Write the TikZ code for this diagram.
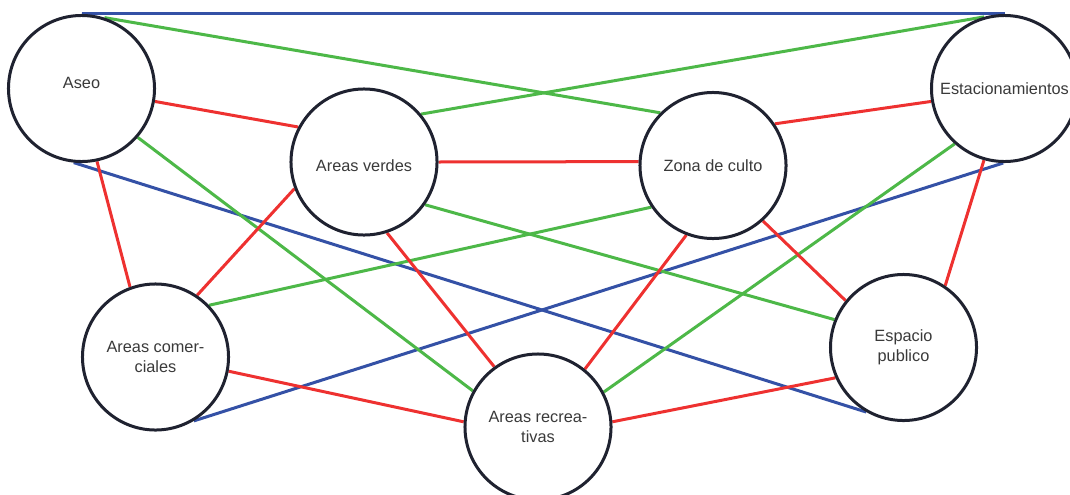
\documentclass[tikz,border=0pt]{standalone}
\usepackage{fontspec}
\setsansfont{Liberation Sans}
\usetikzlibrary{backgrounds}
\definecolor{PlanBlue}{HTML}{3451A6}
\definecolor{PlanGreen}{HTML}{4DB848}
\definecolor{PlanRed}{HTML}{EE3130}
\definecolor{PlanInk}{HTML}{1F2230}
\definecolor{PlanText}{HTML}{3A3A3A}
\tikzset{
  area/.style={circle, draw=PlanInk, line width=0.075cm, fill=white,
    minimum size=3.65cm, inner sep=0pt, align=center, text=PlanText},
  link/.style={line width=0.075cm}
}

\begin{document}
\begin{tikzpicture}[x=0.025cm,y=-0.025cm,font={\sffamily\fontsize{11.6}{14.4}\selectfont}]
    \useasboundingbox (0,0) rectangle (1070,494);
    % zonas
    \node[area] (aseo)  at (81.5,88.5)  {\raisebox{0.15cm}[\height][\depth]{Aseo}};
    \node[area] (verde) at (364,162)    {\raisebox{-0.1cm}[\height][\depth]{Areas verdes}};
    \node[area] (culto) at (713,165.5)  {Zona de culto};
    \node[area] (estac) at (1004.5,88.5) {Estacionamientos};
    \node[area] (comer) at (155.5,357)  {Areas comer-\\ciales};
    \node[area] (recre) at (538,427)    {Areas recrea-\\tivas};
    \node[area] (publi) at (903.5,347.5) {Espacio\\publico};

    \begin{scope}[on background layer]
      % azul
      \draw[link, PlanBlue] (aseo.north) -- (estac.north);
      \draw[link, PlanBlue] (aseo.264) -- (publi.240);
      \draw[link, PlanBlue] (estac.269) -- (comer.-59);
      % verde
      \draw[link, PlanGreen] (aseo.72) -- (culto.135);
      \draw[link, PlanGreen] (verde.40) -- (estac.106);
      \draw[link, PlanGreen] (aseo.-41) -- (recre.151);
      \draw[link, PlanGreen] (culto.214) -- (comer.44);
      \draw[link, PlanGreen] (verde.-35) -- (publi.158);
      \draw[link, PlanGreen] (estac.228) -- (recre.28);
      % rojo
      \draw[link, PlanRed] (aseo.-10) -- (verde.152);
      \draw[link, PlanRed] (verde.0) -- (culto.177);
      \draw[link, PlanRed] (culto.34) -- (estac.190);
      \draw[link, PlanRed] (aseo.-78) -- (comer.110);
      \draw[link, PlanRed] (verde.201) -- (comer.56);
      \draw[link, PlanRed] (verde.-72) -- (recre.126);
      \draw[link, PlanRed] (culto.249) -- (recre.51);
      \draw[link, PlanRed] (culto.-48) -- (publi.141);
      \draw[link, PlanRed] (estac.254) -- (publi.56);
      \draw[link, PlanRed] (comer.-11) -- (recre.176);
      \draw[link, PlanRed] (recre.4) -- (publi.204);
    \end{scope}
\end{tikzpicture}
\end{document}
